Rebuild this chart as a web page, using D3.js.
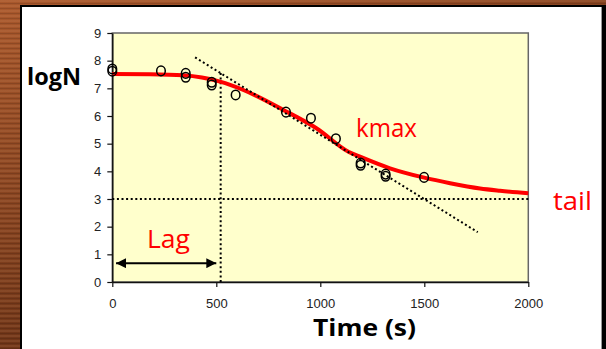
<!DOCTYPE html>
<html><head><meta charset="utf-8">
<script src="https://cdn.jsdelivr.net/npm/d3@7"></script>
<style>html,body{margin:0;padding:0;background:#7a3a1a;}svg{display:block;}</style>
</head><body>
<script>
// Observed data points (time s, logN)
const obsTime = [0, 0, 234, 353, 353, 478, 478, 593, 835, 955, 1075, 1194, 1194, 1314, 1314, 1499];
const obsLogN = [7.70, 7.62, 7.63, 7.54, 7.40, 7.22, 7.12, 6.76, 6.14, 5.92, 5.18, 4.30, 4.22, 3.90, 3.82, 3.78];
// Fitted model curve
const fitTime = [0, 181, 341, 518, 630, 822, 983, 1135, 1191, 1335, 1495, 1624, 1768, 1864, 2000];
const fitLogN = [7.52, 7.51, 7.47, 7.24, 6.94, 6.22, 5.55, 4.71, 4.53, 4.11, 3.78, 3.57, 3.38, 3.30, 3.21];
// Tangent (kmax) line endpoints, tail level, lag
const tangentTime = [398, 1757];
const tangentLogN = [8.12, 1.80];
const tailLevel = 3;
const lagTime = 521;
const lagTopLogN = 7.55;
const lagArrowTime = [18, 500];
const lagArrowLogN = 0.68;
// Axis ticks
const xTicks = [0, 500, 1000, 1500, 2000];
const yTicks = [0, 1, 2, 3, 4, 5, 6, 7, 8, 9];

const W = 606, H = 349;
const svg = d3.select("body").append("svg").attr("width", W).attr("height", H);
const defs = svg.append("defs");

// wood-like background
const g1 = defs.append("linearGradient").attr("id","wood").attr("x1",0).attr("y1",0).attr("x2",0.6).attr("y2",1);
g1.append("stop").attr("offset","0%").attr("stop-color","#a9582c");
g1.append("stop").attr("offset","100%").attr("stop-color","#5a2810");
const pat = defs.append("pattern").attr("id","stripes").attr("width",6).attr("height",5).attr("patternUnits","userSpaceOnUse");
pat.append("rect").attr("width",6).attr("height",2).attr("fill","rgba(255,200,150,0.10)");
pat.append("rect").attr("y",3).attr("width",6).attr("height",1).attr("fill","rgba(0,0,0,0.12)");
svg.append("rect").attr("width",W).attr("height",H).attr("fill","url(#wood)");
svg.append("rect").attr("width",W).attr("height",H).attr("fill","url(#stripes)");

// panel
svg.append("rect").attr("x",20).attr("y",5).attr("width",586).attr("height",H-5).attr("fill","#000");
svg.append("rect").attr("x",22).attr("y",7).attr("width",580).attr("height",H-7).attr("fill","#fff");
svg.append("rect").attr("x",601).attr("y",7).attr("width",1).attr("height",H-7).attr("fill","#999");

const x = d3.scaleLinear().domain([0,2000]).range([112.3,528.3]);
const y = d3.scaleLinear().domain([0,9]).range([282,33]);

// plot area
svg.append("rect").attr("x",x(0)).attr("y",y(9)).attr("width",x(2000)-x(0)).attr("height",y(0)-y(9))
  .attr("fill","#ffffcc").attr("stroke","#666").attr("stroke-width",1.5);

// axes
const yAxis = svg.append("g").attr("transform",`translate(${x(0)},0)`)
  .call(d3.axisLeft(y).tickValues(yTicks).tickFormat(d3.format("d")).tickSize(5).tickPadding(6).tickSizeOuter(0));
const xAxis = svg.append("g").attr("transform",`translate(0,${y(0)})`)
  .call(d3.axisBottom(x).tickValues(xTicks).tickFormat(d3.format("d")).tickSize(5).tickPadding(12).tickSizeOuter(0));
[yAxis, xAxis].forEach(a => {
  a.select(".domain").attr("stroke","#111").attr("stroke-width",1.5);
  a.selectAll(".tick line").attr("stroke","#111").attr("stroke-width",1.2);
  a.selectAll("text").attr("font-family","Liberation Sans, Arial, sans-serif").attr("font-size",13).attr("fill","#222");
});

// dotted reference lines
const dots = sel => sel.attr("stroke","#000").attr("stroke-width",2).attr("stroke-dasharray","2 2.6").attr("fill","none");
svg.append("line").attr("x1",x(0)).attr("x2",x(2000)).attr("y1",y(tailLevel)).attr("y2",y(tailLevel)).call(dots);
svg.append("line").attr("x1",x(lagTime)).attr("x2",x(lagTime)).attr("y1",y(0)).attr("y2",y(lagTopLogN)).call(dots);

// fitted curve
const line = d3.line().x(d=>x(d[0])).y(d=>y(d[1])).curve(d3.curveMonotoneX);
svg.append("path").datum(fitTime.map((t,i)=>[t,fitLogN[i]])).attr("d",line)
  .attr("fill","none").attr("stroke","#ff0000").attr("stroke-width",4).attr("stroke-linecap","butt");

// tangent
svg.append("line").attr("x1",x(tangentTime[0])).attr("y1",y(tangentLogN[0]))
  .attr("x2",x(tangentTime[1])).attr("y2",y(tangentLogN[1])).call(dots);

// observations
svg.append("g").selectAll("ellipse").data(obsTime.map((t,i)=>[t,obsLogN[i]])).join("ellipse")
  .attr("cx",d=>x(d[0])).attr("cy",d=>y(d[1])).attr("rx",4.3).attr("ry",4.8)
  .attr("fill","none").attr("stroke","#000").attr("stroke-width",1.5);

// lag arrow
const mk = (id, orient) => defs.append("marker").attr("id",id).attr("viewBox","0 0 10 10")
  .attr("refX",10).attr("refY",5).attr("markerWidth",10).attr("markerHeight",10)
  .attr("markerUnits","userSpaceOnUse").attr("orient",orient)
  .append("path").attr("d","M0,0 L10,5 L0,10 Z").attr("fill","#000");
mk("arr","auto"); mk("arrS","auto-start-reverse");
svg.append("line").attr("x1",x(lagArrowTime[0])).attr("x2",x(lagArrowTime[1]))
  .attr("y1",y(lagArrowLogN)).attr("y2",y(lagArrowLogN))
  .attr("stroke","#000").attr("stroke-width",2)
  .attr("marker-start","url(#arrS)").attr("marker-end","url(#arr)");

// labels
const FONT = "'Open Sans', 'DejaVu Sans', sans-serif";
svg.append("text").attr("x",27).attr("y",85).text("logN")
  .attr("font-family",FONT).attr("font-weight","bold").attr("font-size",24)
  .attr("textLength",54).attr("lengthAdjust","spacingAndGlyphs").attr("fill","#000");
svg.append("text").attr("x",313).attr("y",336).text("Time (s)")
  .attr("font-family",FONT).attr("font-weight","bold").attr("font-size",24)
  .attr("textLength",103).attr("lengthAdjust","spacingAndGlyphs").attr("fill","#000");
const red = (t, px, py, w) => svg.append("text").attr("x",px).attr("y",py).text(t)
  .attr("font-family",FONT).attr("font-size",25).attr("fill","#ff0000")
  .attr("textLength",w).attr("lengthAdjust","spacingAndGlyphs");
red("kmax", 356, 137, 61);
red("tail", 553, 210, 39);
red("Lag", 147, 248, 43);
</script>
</body></html>
